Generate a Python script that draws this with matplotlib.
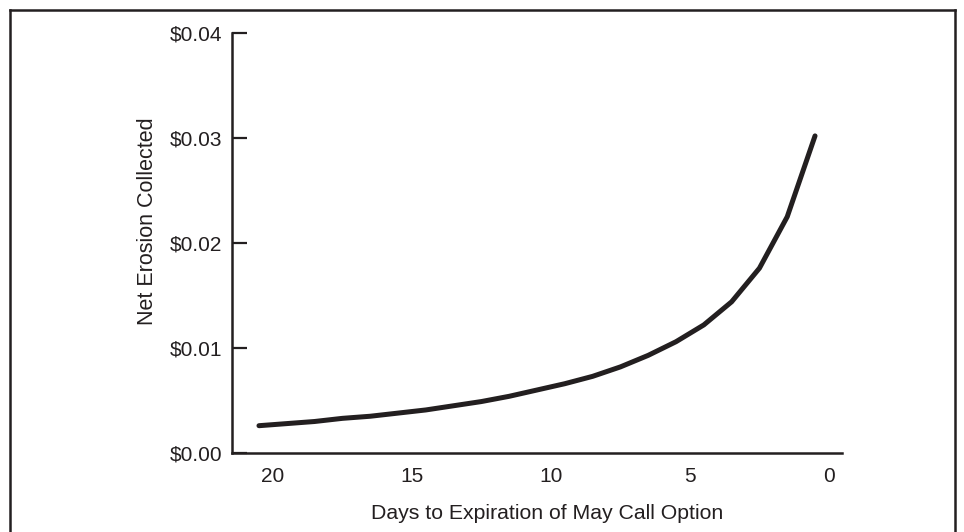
import matplotlib
matplotlib.use("Agg")
import matplotlib.pyplot as plt
from matplotlib.lines import Line2D
from matplotlib.ticker import FuncFormatter

plt.rcParams['font.family'] = ['Liberation Sans', 'DejaVu Sans']

# datos
days = [20.5, 19.5, 18.5, 17.5, 16.5, 15.5, 14.5, 13.5, 12.5, 11.5, 10.5,
        9.5, 8.5, 7.5, 6.5, 5.5, 4.5, 3.5, 2.5, 1.5, 0.5]
erosion = [0.0026, 0.0028, 0.0030, 0.0033, 0.0035, 0.0038, 0.0041, 0.0045,
           0.0049, 0.0054, 0.0060, 0.0066, 0.0073, 0.0082, 0.0093, 0.0106,
           0.0122, 0.0144, 0.0176, 0.0225, 0.0302]
x_ticks = [20, 15, 10, 5, 0]
y_ticks = [0.00, 0.01, 0.02, 0.03, 0.04]

ink = '#231f20'

fig = plt.figure(figsize=(9.64, 5.32), dpi=100)
ax = fig.add_axes([232/964, 1 - 453/532, 610/964, 420/532])

ax.plot(days, erosion, color=ink, lw=3.6, solid_capstyle='round', solid_joinstyle='miter')

ax.set_xlim(21.47, -0.47)
ax.set_ylim(0, 0.04)
ax.set_xticks(x_ticks)
ax.set_yticks(y_ticks)
ax.yaxis.set_major_formatter(FuncFormatter(lambda v, p: f'${v:.2f}'))

for s in ['top', 'right']:
    ax.spines[s].set_visible(False)
for s in ['left', 'bottom']:
    ax.spines[s].set_linewidth(1.8)
    ax.spines[s].set_color(ink)

ax.tick_params(axis='x', length=0, pad=10, labelsize=15, labelcolor=ink)
ax.tick_params(axis='y', direction='in', length=11, width=1.6, color=ink,
               pad=7, labelsize=15, labelcolor=ink)

ax.set_xlabel('Days to Expiration of May Call Option', fontsize=15.3, color=ink)
ax.set_ylabel('Net Erosion Collected', fontsize=15.5, color=ink)
ax.xaxis.set_label_coords(0.516, -0.121)
ax.yaxis.set_label_coords(-0.122, 0.552)

# marco exterior (sin borde inferior)
W, H = 964, 532
fx = lambda px: px / W
fy = lambda py: 1 - py / H
frame = [((10, 10), (10, 540)), ((10, 10), (955, 10)), ((955, 10), (955, 540))]
for (x0, y0), (x1, y1) in frame:
    fig.add_artist(Line2D([fx(x0), fx(x1)], [fy(y0), fy(y1)], color=ink, lw=1.8))

fig.savefig('out.png', dpi=100)
